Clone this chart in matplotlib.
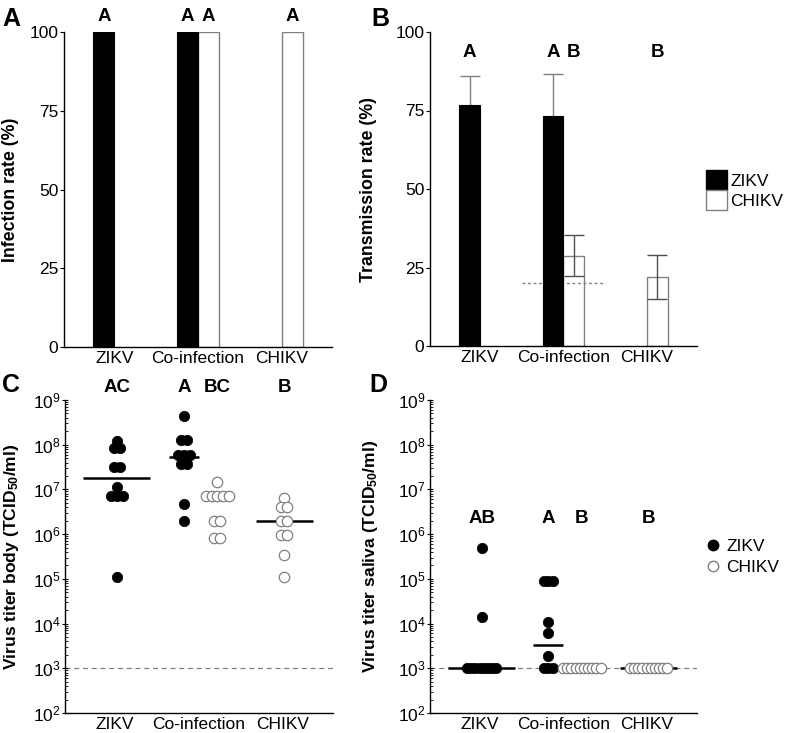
import numpy as np
import matplotlib.pyplot as plt
from matplotlib.patches import Patch
from matplotlib.lines import Line2D

plt.rcParams['font.family'] = ['Liberation Sans', 'DejaVu Sans']
plt.rcParams['mathtext.fontset'] = 'custom'
plt.rcParams['mathtext.rm'] = 'Liberation Sans'
plt.rcParams['mathtext.bf'] = 'Liberation Sans:bold'
plt.rcParams['mathtext.default'] = 'regular'

groups = ['ZIKV', 'Co-infection', 'CHIKV']

# A: infection rate (%)
inf_zikv = [100, 100]          # ZIKV alone, co-infection
inf_chikv = [100, 100]         # co-infection, CHIKV alone
inf_letters = ['A', 'A', 'A', 'A']

# B: transmission rate (%)
trans_zikv = [76.7, 73.4]
trans_zikv_err = [9.3, 13.2]
trans_chikv = [28.7, 22.0]
trans_chikv_err = [6.5, 7.1]
trans_letters = ['A', 'A', 'B', 'B']
trans_ref = 20

# C: body titers (TCID50/ml)
zikv_body = [1.2e8, 8.3e7, 8.3e7, 3.2e7, 3.2e7, 1.15e7, 7.2e6, 7.2e6, 7.2e6, 1.1e5]
coinf_zikv_body = [4.4e8, 1.3e8, 1.3e8, 6.0e7, 6.0e7, 6.0e7, 3.8e7, 3.8e7, 4.7e6, 2.0e6]
coinf_chikv_body = [1.5e7, 7.2e6, 7.2e6, 7.2e6, 7.2e6, 7.2e6, 2.0e6, 2.0e6, 8.1e5, 8.1e5]
chikv_body = [6.5e6, 4.1e6, 4.1e6, 2.0e6, 2.0e6, 9.5e5, 9.5e5, 3.5e5, 1.1e5]
body_means = [1.8e7, 5.4e7, 6.6e6, 2.0e6]
body_letters = ['AC', 'A', 'BC', 'B']

# D: saliva titers (TCID50/ml)
zikv_saliva = [4.8e5, 1.4e4] + [1e3] * 8
coinf_zikv_saliva = [9e4, 9e4, 9e4, 1.1e4, 6e3, 1.9e3, 1e3, 1e3, 1e3]
coinf_chikv_saliva = [1e3] * 10
chikv_saliva = [1e3] * 10
saliva_means = [1e3, 3.3e3, 1e3, 1e3]
saliva_letters = ['AB', 'A', 'B', 'B']
detect_limit = 1e3

GREY = '#808080'
W = 0.25
FS = 12.5
LFS = 13.5

fig = plt.figure(figsize=(7.86, 7.33), dpi=100)
axA = fig.add_axes([64/786, 1-347/733, 268/786, 315/733])
axB = fig.add_axes([430/786, 1-346/733, 267/786, 314/733])
axC = fig.add_axes([65/786, 1-713/733, 268/786, 313/733])
axD = fig.add_axes([430/786, 1-713/733, 267/786, 313/733])


def style(ax):
    for s in ['top', 'right']:
        ax.spines[s].set_visible(False)
    for s in ['left', 'bottom']:
        ax.spines[s].set_linewidth(1.0)
    ax.set_xlim(-0.6, 2.6)
    ax.set_xticks([0, 1, 2])
    ax.set_xticklabels(groups, fontsize=FS)
    ax.tick_params(axis='x', length=0, pad=3)
    ax.tick_params(axis='y', labelsize=FS, length=3, pad=1)


# --- bar panels
zx = np.array([0, 1]) - W / 2
cx = np.array([1, 2]) + W / 2
for ax, zv, cv in [(axA, inf_zikv, inf_chikv), (axB, trans_zikv, trans_chikv)]:
    style(ax)
    ax.bar(zx, zv, W, color='black', edgecolor='black', linewidth=0.8, zorder=3)
    ax.bar(cx, cv, W, color='white', edgecolor=GREY, linewidth=1.0, zorder=1)
    ax.set_ylim(0, 100)
    ax.set_yticks([0, 25, 50, 75, 100])

axB.errorbar(zx, trans_zikv, yerr=trans_zikv_err, fmt='none', ecolor=GREY,
             elinewidth=1, capsize=7.5, zorder=2)
axB.errorbar(cx, trans_chikv, yerr=trans_chikv_err, fmt='none', ecolor='#505050',
             elinewidth=1, capsize=7.5, zorder=2)
axB.hlines(trans_ref, 0.5, 1.5, colors=GREY, linestyles=(0, (2, 2)), linewidth=1, zorder=2)

letter_x = list(zx) + list(cx)
for x, t in zip(letter_x, inf_letters):
    axA.text(x, 105, t, ha='center', va='center', fontsize=LFS, fontweight='bold', clip_on=False)
for x, t in zip(letter_x, trans_letters):
    axB.text(x, 93.4, t, ha='center', va='center', fontsize=LFS, fontweight='bold')

axA.set_ylabel('Infection rate (%)', fontsize=12.8, fontweight='bold')
axA.yaxis.set_label_coords(-0.168, 0.5)
axB.set_ylabel('Transmission rate (%)', fontsize=12.8, fontweight='bold')
axB.yaxis.set_label_coords(-0.199, 0.5)

axB.legend(handles=[Patch(facecolor='black', edgecolor='black', label='ZIKV'),
                    Patch(facecolor='white', edgecolor=GREY, label='CHIKV')],
           loc='center left', bbox_to_anchor=(706/786, 1-190/733), bbox_transform=fig.transFigure,
           frameon=False, fontsize=FS, handlelength=1.2, handleheight=1.4,
           labelspacing=0, handletextpad=0.2, borderpad=0, borderaxespad=0)

# --- dot panels
col_pos = [0.02, 0.82, 1.22, 2.02]
mean_half = [0.4, 0.18, 0.16, 0.34]


def spread(vals, step):
    vals = np.asarray(vals, dtype=float)
    off = np.zeros(len(vals))
    for v in np.unique(vals):
        idx = np.where(vals == v)[0]
        off[idx] = (np.arange(len(idx)) - (len(idx) - 1) / 2) * step
    return off


def dots(ax, cols, means, letters, ly, step):
    style(ax)
    ax.set_yscale('log')
    ax.set_ylim(1e2, 1e9)
    ax.set_yticks([10.0 ** k for k in range(2, 10)])
    ax.tick_params(axis='y', which='minor', length=2, direction='in')
    ax.tick_params(axis='y', which='major', length=4, direction='inout')
    ax.axhline(detect_limit, color=GREY, linestyle=(0, (4, 3)), linewidth=0.9, zorder=1)
    for i, vals in enumerate(cols):
        x = col_pos[i] + spread(vals, step)
        if i in (0, 1):
            ax.plot(x, vals, 'o', ms=7.5, mfc='black', mec='black', mew=0.5, ls='none', zorder=3)
        else:
            ax.plot(x, vals, 'o', ms=7.5, mfc='white', mec=GREY, mew=0.9, ls='none', zorder=3)
        ax.hlines(means[i], col_pos[i] - mean_half[i], col_pos[i] + mean_half[i],
                  colors='black', linewidth=1.8, zorder=4 if i in (0, 1) else 2)
        ax.text(col_pos[i], ly, letters[i], ha='center', va='center',
                fontsize=LFS, fontweight='bold', clip_on=False)


dots(axC, [zikv_body, coinf_zikv_body, coinf_chikv_body, chikv_body],
     body_means, body_letters, 10 ** 9.29, 0.07)
dots(axD, [zikv_saliva, coinf_zikv_saliva, coinf_chikv_saliva, chikv_saliva],
     saliva_means, saliva_letters, 10 ** 6.36, 0.05)

axC.set_ylabel('Virus titer body (TCID$_{50}$/ml)', fontsize=12.6, fontweight='bold')
axC.yaxis.set_label_coords(-0.164, 0.5)
axD.set_ylabel('Virus titer saliva (TCID$_{50}$/ml)', fontsize=12.6, fontweight='bold')
axD.yaxis.set_label_coords(-0.189, 0.5)

axD.legend(handles=[Line2D([], [], marker='o', ls='none', ms=7.5, mfc='black', mec='black', label='ZIKV'),
                    Line2D([], [], marker='o', ls='none', ms=7.5, mfc='white', mec=GREY, label='CHIKV')],
           loc='center left', bbox_to_anchor=(704/786, 1-557/733), bbox_transform=fig.transFigure,
           frameon=False, fontsize=FS, handlelength=1.0, labelspacing=0.35,
           handletextpad=0.3, borderpad=0, borderaxespad=0)

for t, x, y in [('A', 2, 7), ('B', 371, 7), ('C', 2, 373), ('D', 369, 373)]:
    fig.text(x / 786, 1 - y / 733, t, ha='left', va='top', fontsize=18, fontweight='bold')

fig.savefig('out.png', dpi=100)
